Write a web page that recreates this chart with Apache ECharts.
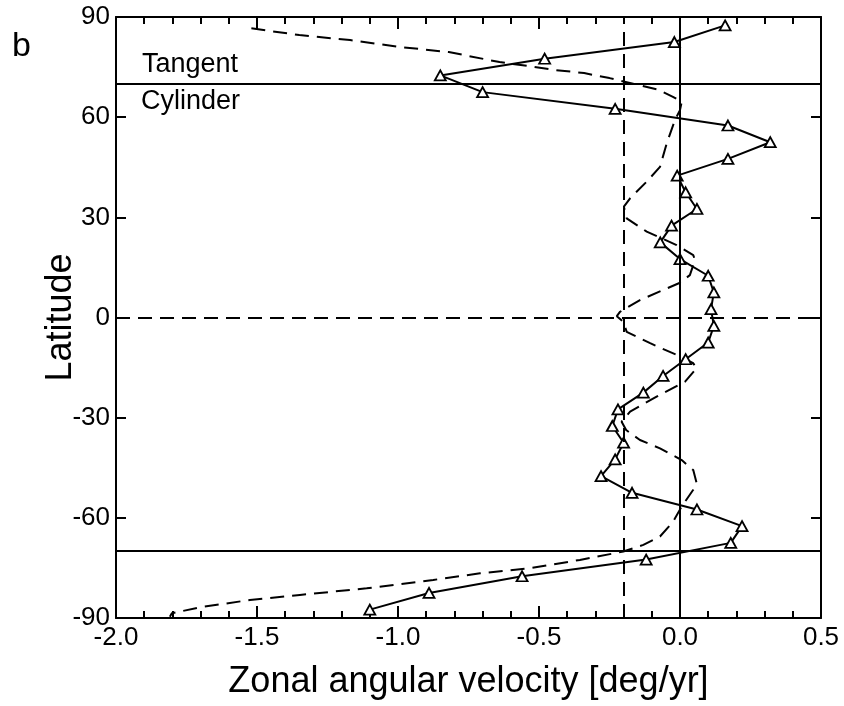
<!DOCTYPE html>
<html>
<head>
<meta charset="utf-8">
<script src="https://cdn.jsdelivr.net/npm/echarts@6/dist/echarts.min.js"></script>
<style>
  html, body { margin: 0; padding: 0; background: #ffffff; }
  #chart { width: 844px; height: 706px; }
</style>
</head>
<body>
<div id="chart"></div>
<script>
// Observed zonal angular velocity, 5-degree latitude bins
const observedLat = [87.5, 82.5, 77.5, 72.5, 67.5, 62.5, 57.5, 52.5, 47.5, 42.5,
  37.5, 32.5, 27.5, 22.5, 17.5, 12.5, 7.5, 2.5, -2.5, -7.5,
  -12.5, -17.5, -22.5, -27.5, -32.5, -37.5, -42.5, -47.5, -52.5, -57.5,
  -62.5, -67.5, -72.5, -77.5, -82.5, -87.5];
const observedVel = [0.16, -0.02, -0.48, -0.85, -0.70, -0.23, 0.17, 0.32, 0.17, -0.01,
  0.02, 0.06, -0.03, -0.07, 0.00, 0.10, 0.12, 0.11, 0.12, 0.10,
  0.02, -0.06, -0.13, -0.22, -0.24, -0.20, -0.23, -0.28, -0.17, 0.06,
  0.22, 0.18, -0.12, -0.56, -0.89, -1.10];

// Model profile (dashed curve)
const modelLat = [86.6, 84.6, 83.1, 81.0, 79.5, 76.5, 75.1, 74.1, 73.2, 71.7,
  70.1, 68.3, 66.1, 64.6, 62.1, 59.1, 52.2, 45.1, 40.7, 35.7,
  33.2, 29.7, 25.7, 21.7, 18.7, 17.2, 12.7, 10.4, 8.7, 5.2,
  1.7, 0.4, -1.3, -4.3, -7.7, -11.2, -13.7, -15.2, -19.2, -23.7,
  -28.2, -31.2, -33.7, -36.7, -39.2, -42.7, -45.7, -49.6, -51.6, -56.6,
  -61.1, -65.6, -68.1, -70.1, -72.6, -75.1, -76.6, -78.6, -81.1, -83.1,
  -84.6, -86.8, -88.6, -89.6];
const modelVel = [-1.52, -1.35, -1.17, -0.99, -0.82, -0.64, -0.52, -0.44, -0.34, -0.25,
  -0.17, -0.08, -0.025, 0.006, 0.0, -0.018, -0.047, -0.071, -0.118, -0.177,
  -0.199, -0.189, -0.118, -0.012, 0.047, 0.053, 0.035, 0.0, -0.047, -0.142,
  -0.213, -0.224, -0.201, -0.189, -0.106, -0.012, 0.047, 0.059, 0.018, -0.083,
  -0.177, -0.207, -0.191, -0.142, -0.071, 0.006, 0.047, 0.059, 0.047, 0.006,
  -0.024, -0.071, -0.130, -0.201, -0.355, -0.532, -0.709, -0.875, -1.111, -1.348,
  -1.525, -1.702, -1.802, -1.809];

// Reference lines
const tangentCylinderLats = [70, -70];
const equatorLat = [0];
const zeroVel = [0];
const dashedVel = [-0.2];

// Axis ranges
const velRange = [-2.0, 0.5];
const velStep = 0.5;
const latRange = [-90, 90];
const latStep = 30;

const FONT = 'Liberation Sans';
const DASH = [14, 8];
const toPairs = (xs, ys) => xs.map((x, i) => [x, ys[i]]);

const xBase = {
  type: 'value', min: velRange[0], max: velRange[1], interval: velStep,
  axisLine: { onZero: false, lineStyle: { color: '#000', width: 2 } },
  axisTick: { show: true, inside: true, length: 12, lineStyle: { color: '#000', width: 2 } },
  minorTick: { show: true, splitNumber: 5, length: 7, lineStyle: { color: '#000', width: 2 } },
  splitLine: { show: false }, minorSplitLine: { show: false }
};
const yBase = {
  type: 'value', min: latRange[0], max: latRange[1], interval: latStep,
  axisLine: { onZero: false, lineStyle: { color: '#000', width: 2 } },
  axisTick: { show: true, inside: true, length: 10, lineStyle: { color: '#000', width: 2 } },
  splitLine: { show: false }
};

const chart = echarts.init(document.getElementById('chart'), null, { renderer: 'canvas' });
chart.setOption({
  animation: false,
  backgroundColor: '#ffffff',
  grid: { left: 116, right: 23, top: 17, bottom: 88 },
  xAxis: [
    Object.assign({}, xBase, {
      position: 'bottom',
      name: 'Zonal angular velocity [deg/yr]', nameLocation: 'middle', nameGap: 46,
      nameMoveOverlap: false,
      nameTextStyle: { color: '#000', fontSize: 36, fontFamily: FONT },
      axisLabel: { color: '#000', fontSize: 26, fontFamily: FONT, margin: 7,
        formatter: v => v.toFixed(1) }
    }),
    Object.assign({}, xBase, { position: 'top', axisLabel: { show: false } })
  ],
  yAxis: [
    Object.assign({}, yBase, {
      position: 'left',
      name: 'Latitude', nameLocation: 'middle', nameGap: 37,
      nameMoveOverlap: false,
      nameTextStyle: { color: '#000', fontSize: 36, fontFamily: FONT },
      axisLabel: { color: '#000', fontSize: 26, fontFamily: FONT, margin: 6 }
    }),
    Object.assign({}, yBase, { position: 'right', axisLabel: { show: false } })
  ],
  graphic: [
    { type: 'text', left: 12, top: 30, style: { text: 'b', fontSize: 34, fontFamily: FONT, fill: '#000' } },
    { type: 'text', left: 142, top: 51, style: { text: 'Tangent', fontSize: 27, fontFamily: FONT, fill: '#000' } },
    { type: 'text', left: 141, top: 88, style: { text: 'Cylinder', fontSize: 27, fontFamily: FONT, fill: '#000' } }
  ],
  series: [
    {
      type: 'line', data: [], z: 1, silent: true,
      markLine: {
        silent: true, symbol: ['none', 'none'], label: { show: false },
        animation: false,
        lineStyle: { color: '#000', width: 2, type: 'solid' },
        data: [
          ...tangentCylinderLats.map(v => ({ yAxis: v })),
          ...zeroVel.map(v => ({ xAxis: v })),
          ...equatorLat.map(v => ({ yAxis: v, lineStyle: { type: DASH } })),
          ...dashedVel.map(v => ({ xAxis: v, lineStyle: { type: DASH } }))
        ]
      }
    },
    {
      name: 'model', type: 'line', z: 2, silent: true,
      data: toPairs(modelVel, modelLat),
      symbol: 'none', smooth: false,
      lineStyle: { color: '#000', width: 2, type: DASH }
    },
    {
      name: 'observed', type: 'line', z: 3, silent: true,
      data: toPairs(observedVel, observedLat),
      symbol: 'triangle', symbolSize: [11, 10],
      itemStyle: { color: '#ffffff', borderColor: '#000', borderWidth: 1.8 },
      lineStyle: { color: '#000', width: 2 }
    }
  ]
});
</script>
</body>
</html>
